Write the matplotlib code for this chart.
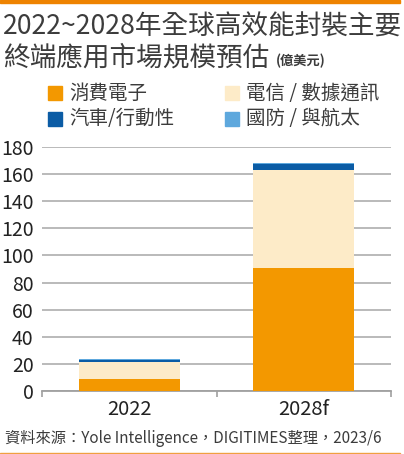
import matplotlib.pyplot as plt
from matplotlib.patches import Rectangle

plt.rcParams['font.family'] = ['Noto Sans CJK TC', 'DejaVu Sans']

years = ['2022', '2028f']
segments = ['消費電子', '電信 / 數據通訊', '汽車/行動性', '國防 / 與航太']
consumer = [8.6, 90.5]
telecom = [12.6, 72.7]
auto = [1.6, 4.2]
defense = [0.7, 1.0]
series = [consumer, telecom, auto, defense]
colors = ['#f39800', '#fdebc8', '#0b5ca5', '#5ea8dd']

text_color = '#3c3c3c'

fig = plt.figure(figsize=(4.04, 4.54), dpi=100)
ax = fig.add_axes([42 / 404, 1 - 391 / 454, 349 / 404, 244 / 454])

bottom = [0, 0]
for vals, c in zip(series, colors):
    ax.bar(range(len(years)), vals, width=0.58, bottom=bottom, color=c, zorder=3)
    bottom = [b + v for b, v in zip(bottom, vals)]

ax.set_xlim(-0.5, 1.5)
ax.set_ylim(0, 180)
ax.set_yticks(range(0, 181, 20))
ax.yaxis.grid(True, color='#b4b4b4', linewidth=1.3, zorder=0)
ax.tick_params(axis='y', length=0, labelsize=14, labelcolor='#222222', pad=6)
ax.set_xticks(range(len(years)))
ax.set_xticklabels(years)
ax.tick_params(axis='x', which='major', length=0, labelsize=14.5, labelcolor='#222222', pad=6)
ax.set_xticks([-0.5, 0.5, 1.5], minor=True)
ax.tick_params(axis='x', which='minor', length=4, width=1.2, color='#a0a0a0', direction='out')
for s in ['top', 'right', 'left']:
    ax.spines[s].set_visible(False)
ax.spines['bottom'].set_color('#a0a0a0')
ax.spines['bottom'].set_linewidth(1.3)
ax.set_facecolor('none')

# title
fig.text(3 / 404, 1 - 27 / 454, '2022~2028年全球高效能封裝主要', fontsize=19.2,
         color=text_color, va='center', ha='left')
fig.text(3 / 404, 1 - 58 / 454, '終端應用市場規模預估', fontsize=19.2,
         color=text_color, va='center', ha='left')
fig.text(276 / 404, 1 - 61 / 454, '(億美元)', fontsize=9.5, fontweight='bold',
         color=text_color, va='center', ha='left')

# legend
leg_pos = [(48, 93), (225, 93), (48, 119), (225, 119)]
for (x, y), lab, c in zip(leg_pos, segments, colors):
    fig.patches.append(Rectangle((x / 404, 1 - (y + 7) / 454), 14 / 404, 14 / 454,
                                 transform=fig.transFigure, color=c, figure=fig))
    fig.text((x + 21) / 404, 1 - y / 454, lab, fontsize=14, color=text_color,
             va='center', ha='left')

# source
fig.text(5 / 404, 1 - 438 / 454, '資料來源：Yole Intelligence，DIGITIMES整理，2023/6',
         fontsize=11, color=text_color, va='center', ha='left')

# orange rules
fig.patches.append(Rectangle((0, 1 - 3 / 454), 400 / 404, 3 / 454,
                             transform=fig.transFigure, color='#ee8300', figure=fig))
fig.patches.append(Rectangle((0, 1 - 454 / 454), 400 / 404, 1.5 / 454,
                             transform=fig.transFigure, color='#f0a040', figure=fig))

fig.savefig('out.png', dpi=100)
